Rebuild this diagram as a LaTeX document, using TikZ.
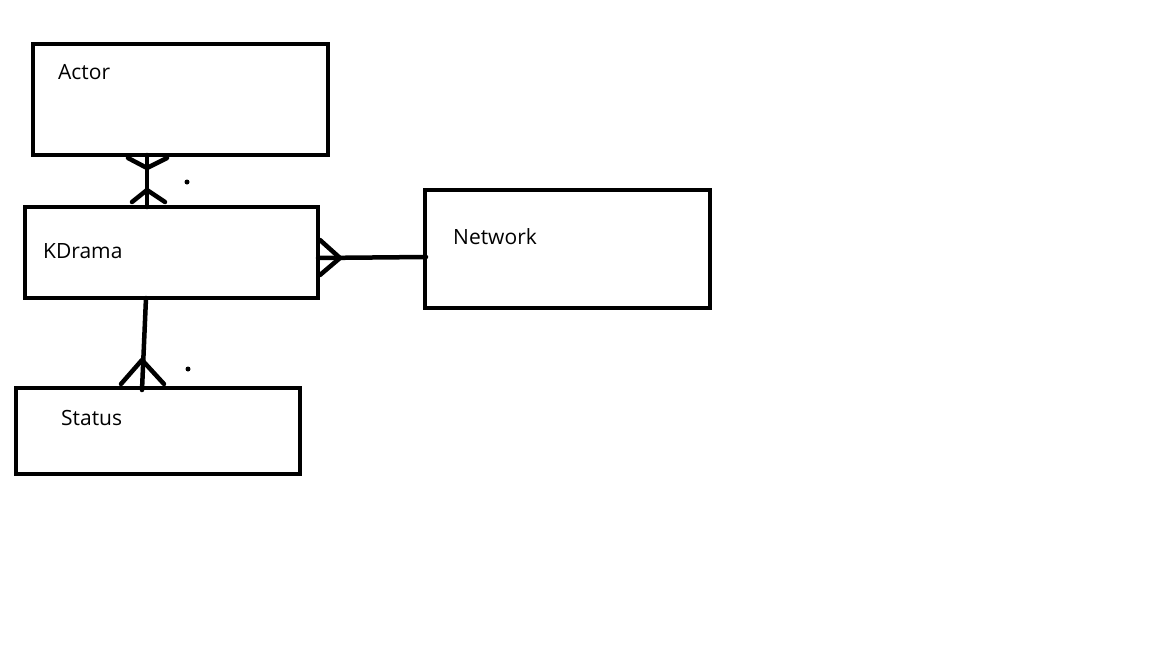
\documentclass[tikz,border=0pt]{standalone}
\usepackage{fontspec}
\setmainfont{Open Sans}
\begin{document}
\begin{tikzpicture}[x=1pt,y=-1pt,
  ent/.style={draw=black,line width=4.5pt,inner sep=0pt,rectangle},
  lbl/.style={anchor=base west,inner sep=0pt,font=\fontsize{21}{25}\selectfont},
  link/.style={draw=black,line width=4.5pt,line cap=round,line join=round},
  dotmark/.style={fill=black,circle,inner sep=0pt,minimum size=5pt}]
\useasboundingbox[fill=white] (0,0) rectangle (1152,648);
% entity boxes
\node[ent,minimum width=295pt,minimum height=111pt] (actor) at (180.5,99.5) {};
\node[ent,minimum width=293pt,minimum height=91pt] (kdrama) at (171.5,252.5) {};
\node[ent,minimum width=285pt,minimum height=118pt] (network) at (567.5,249) {};
\node[ent,minimum width=284pt,minimum height=86pt] (status) at (158,431) {};
% labels
\node[lbl] (tactor) at (58,79.5) {Actor};
\node[lbl] (tkdrama) at (43,258.5) {KDrama};
\node[lbl] (tnetwork) at (453,244.5) {Network};
\node[lbl] (tstatus) at (61,425.5) {Status};
% Actor -- KDrama
\coordinate (a1) at (147,155);
\coordinate (a2) at (147,207);
\draw[link] (a1) -- (a2);
\draw[link] (128,158) -- (147,168) -- (167,158);
\draw[link] (132,202) -- (147,190) -- (165,202);
\node[dotmark] (d1) at (187,182) {};
% KDrama -- Network
\coordinate (n1) at (318,258);
\coordinate (n2) at (426,257);
\draw[link] (n1) -- (n2);
\draw[link] (320,240) -- (340,258) -- (320,275);
% KDrama -- Status
\coordinate (s1) at (146,298);
\coordinate (s2) at (142,390);
\draw[link] (s1) -- (s2);
\draw[link] (121,384) -- (142,360) -- (164,384);
\node[dotmark] (d2) at (188,369) {};
\end{tikzpicture}
\end{document}
